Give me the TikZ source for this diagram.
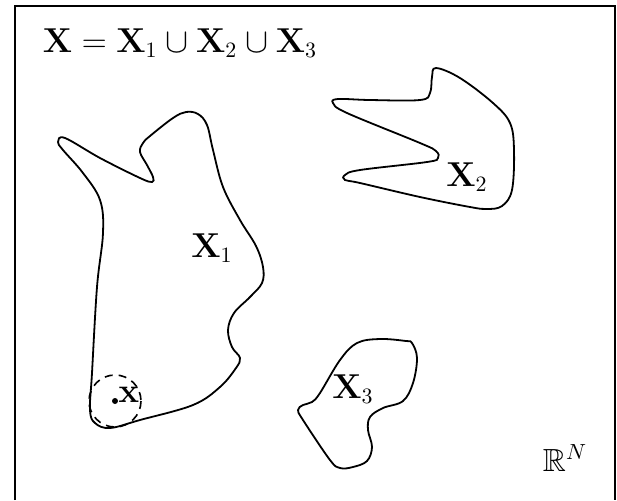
\documentclass[tikz,border=0pt]{standalone}
\usepackage{amssymb,amsmath}
\usetikzlibrary{positioning}

\begin{document}
\begin{tikzpicture}[x=0.5pt,y=-0.5pt,line width=0.9pt,
  every node/.style={font=\fontsize{16}{19}\selectfont}]
\useasboundingbox (0,0) rectangle (617,500);
\draw (15,500) -- (15,6) -- (615,6) -- (615,500);
\node (union) at (180,43) {$\mathbf{X}=\mathbf{X}_1\cup\mathbf{X}_2\cup\mathbf{X}_3$};
% X_1
\draw plot[smooth cycle,tension=0.6] coordinates {(58,142) (65,138) (100,158) (140,178) (152,182) (153,177)
 (147,165) (140,152) (143,143) (150,136) (173,118) (186,112) (198,114) (207,125) (213,150) (223,187)
 (240,220) (256,246) (263,267) (262,283) (250,297) (234,313) (228,330) (232,347) (240,358)
 (236,368) (220,387) (193,405) (140,420) (110,428) (95,423) (90,410) (92,373) (97,287)
 (103,233) (100,200) (83,173) (63,150)};
% X_2
\draw plot[smooth cycle,tension=0.6] coordinates {(436,68) (460,78) (493,103) (510,123) (514,150)
 (512,190) (502,206) (487,209) (470,207) (420,197) (360,183) (345,180) (345,175) (360,170)
 (427,162) (438,158) (436,151) (420,143) (347,113) (333,103) (338,99) (370,100) (420,100)
 (430,93) (432,77)};
% X_3
\draw plot[smooth cycle,tension=0.6] coordinates {(412,343) (417,358) (413,383) (403,401) (383,408)
 (370,417) (368,430) (372,447) (367,461) (353,467) (340,468) (330,460) (303,420) (298,410)
 (303,405) (312,402) (320,393) (340,360) (357,343) (380,339) (406,341)};
\node (xone) at (212,248) {$\mathbf{X}_1$};
\node (xtwo) at (467,177) {$\mathbf{X}_2$};
\node (xthree) at (353,389) {$\mathbf{X}_3$};
\node (space) at (565,458) {$\mathbb{R}^N$};
% point x and its neighbourhood
\coordinate (pt) at (115,401);
\fill (pt) circle (3);
\draw[dashed,line width=0.8pt,dash pattern=on 4pt off 3pt] (pt) circle (26);
\node[right=-2pt of pt,yshift=3pt] (xlab) {$\mathbf{x}$};
\end{tikzpicture}
\end{document}
